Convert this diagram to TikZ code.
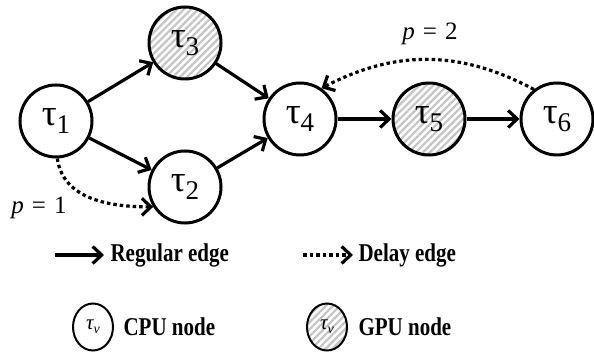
\documentclass[tikz,border=0pt]{standalone}
\usepackage{graphicx}
\usepackage{fontspec}
\setmainfont{Liberation Serif}
\usetikzlibrary{arrows.meta,patterns.meta,shapes.geometric}
\definecolor{gpuhatch}{HTML}{C4C4C4}

\tikzset{
  task/.style={circle, draw, line width=3pt, minimum size=72pt, inner sep=0pt},
  hatched/.style={pattern={Lines[angle=45,distance=5pt,line width=2.2pt]}, pattern color=gpuhatch},
  keytask/.style={ellipse, draw, line width=2pt, minimum width=40pt, minimum height=47pt, inner sep=0pt},
  regedge/.style={line width=3.2pt, -{Straight Barb[length=9pt,width=17pt]}},
  delayedge/.style={line width=3.2pt, dash pattern=on 3.5pt off 3pt, -{Straight Barb[length=9pt,width=17pt]}},
  keytext/.style={anchor=west, font=\fontsize{21}{21}\selectfont\bfseries},
  plabel/.style={font=\fontsize{25}{25}\selectfont},
}
\newcommand{\tsk}[1]{\fontsize{37}{37}\selectfont τ\raisebox{-8pt}{\fontsize{27}{27}\selectfont #1}}
\newcommand{\keytau}{\fontsize{21}{21}\selectfont\itshape τ\raisebox{-4pt}{\fontsize{14}{14}\selectfont v}}
\newcommand{\pval}[1]{\textit{p}\hspace{0.32em}=\hspace{0.32em}#1}
\newcommand{\tallkey}[1]{\scalebox{1}[1.22]{#1}}

\begin{document}
\begin{tikzpicture}[x=1pt, y=1pt]
  \useasboundingbox (0,0) rectangle (594,356);

  \node[task] (t1) at (56,235) {\tsk{1}};
  \node[task, hatched] (t3) at (185,313) {\tsk{3}};
  \node[task] (t2) at (185,169) {\tsk{2}};
  \node[task] (t4) at (300,237) {\tsk{4}};
  \node[task, hatched] (t5) at (429,237) {\tsk{5}};
  \node[task] (t6) at (557,237) {\tsk{6}};

  \draw[regedge] (t1) -- (t3);
  \draw[regedge] (t1) -- (t2);
  \draw[regedge] (t3) -- (t4);
  \draw[regedge] (t2) -- (t4);
  \draw[regedge] (t4) -- (t5);
  \draw[regedge] (t5) -- (t6);

  \draw[delayedge] (t1.-88) to[out=-82, in=180] (t2.212);
  \draw[delayedge] (t6.128) to[bend right=28] (t4.55);
  \node[plabel] (p1) at (39,148) {\pval{1}};
  \node[plabel] (p2) at (430,322) {\pval{2}};

  % legend
  \coordinate (rs) at (55,101);
  \coordinate (re) at (104,101);
  \draw[regedge] (rs) -- (re);
  \node[keytext] (rt) at (107,101) {\tallkey{Regular edge}};
  \coordinate (ds) at (303,101);
  \coordinate (de) at (353,101);
  \draw[delayedge] (ds) -- (de);
  \node[keytext] (dt) at (355,101) {\tallkey{Delay edge}};

  \node[keytask] (cpu) at (93,29) {\keytau};
  \node[keytext] (ct) at (120,29) {\tallkey{CPU node}};
  \node[keytask, hatched] (gpu) at (327,29) {\keytau};
  \node[keytext] (gt) at (355,29) {\tallkey{GPU node}};
\end{tikzpicture}
\end{document}
